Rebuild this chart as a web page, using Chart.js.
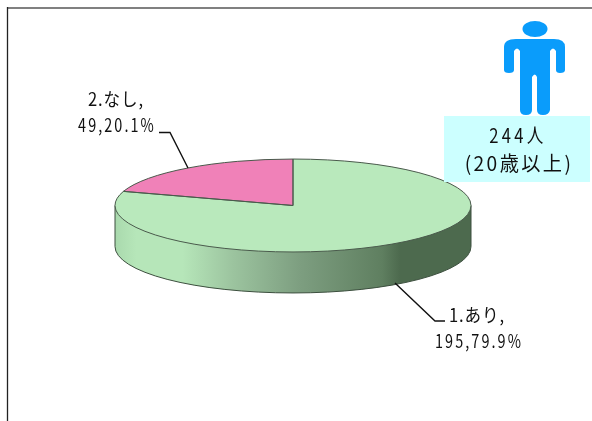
<!DOCTYPE html>
<html lang="ja">
<head>
<meta charset="utf-8">
<title>pie</title>
<script src="https://cdn.jsdelivr.net/npm/chart.js@4"></script>
<style>
html, body { margin: 0; padding: 0; background: #fff; overflow: hidden; }
canvas { display: block; }
</style>
</head>
<body>
<canvas id="pieChart" width="592" height="421"></canvas>
<script>
const categories = ['1.あり', '2.なし'];
const counts = [195, 49];
const percents = ['79.9', '20.1'];
const sampleLines = ['244人', '(20歳以上)'];

const sliceColors = ['#b9e9bc', '#f081b8'];
const FONT = '"Noto Sans CJK JP"';
const TILT = 0.261;   // ellipse height / width
const DEPTH = 41;     // thickness of the disc

function squash(ctx, el) {
    ctx.translate(el.x, el.y);
    ctx.scale(1, TILT);
    ctx.translate(-el.x, -el.y);
}

// the original glyphs are tall and narrow with wide gaps
function label(ctx, text, x, y, spacing, narrow) {
    ctx.save();
    ctx.translate(x, y);
    ctx.scale(narrow, 1);
    ctx.letterSpacing = spacing + 'px';
    ctx.fillText(text, 0, 0);
    ctx.restore();
}

function polyline(ctx, pts) {
    ctx.beginPath();
    pts.forEach((p, i) => i ? ctx.lineTo(p[0], p[1]) : ctx.moveTo(p[0], p[1]));
    ctx.stroke();
}

function drawPerson(ctx) {
    ctx.fillStyle = '#0a9cfb';
    ctx.beginPath();
    ctx.ellipse(535, 29, 12.5, 8, 0, 0, Math.PI * 2);
    ctx.fill();
    ctx.beginPath();
    ctx.moveTo(504, 47);
    ctx.quadraticCurveTo(504, 39, 516, 39);
    ctx.lineTo(554, 39);
    ctx.quadraticCurveTo(565, 39, 565, 47);
    ctx.lineTo(565, 70);
    ctx.quadraticCurveTo(565, 73, 560, 73);
    ctx.quadraticCurveTo(556, 73, 556, 70);
    ctx.lineTo(556, 51);
    ctx.quadraticCurveTo(553, 46, 550, 51);
    ctx.lineTo(550, 110);
    ctx.quadraticCurveTo(549, 115, 543, 115);
    ctx.quadraticCurveTo(537, 115, 537, 110);
    ctx.lineTo(537, 77);
    ctx.quadraticCurveTo(535, 72, 532, 77);
    ctx.lineTo(532, 110);
    ctx.quadraticCurveTo(532, 115, 526, 115);
    ctx.quadraticCurveTo(520, 115, 520, 110);
    ctx.lineTo(520, 51);
    ctx.quadraticCurveTo(517, 46, 514, 51);
    ctx.lineTo(514, 70);
    ctx.quadraticCurveTo(514, 73, 509, 73);
    ctx.quadraticCurveTo(504, 73, 504, 70);
    ctx.closePath();
    ctx.fill();
}

// flat pie from the library, tilted here and given a side wall
const tiltPlugin = {
    id: 'tilt',
    beforeDraw(chart) {
        const ctx = chart.ctx;
        ctx.save();
        ctx.fillStyle = '#fff';
        ctx.fillRect(0, 0, chart.width, chart.height);
        ctx.strokeStyle = '#808080';
        ctx.lineWidth = 2;
        polyline(ctx, [[7, 8], [592, 8]]);
        ctx.strokeStyle = '#222';
        ctx.lineWidth = 1.3;
        polyline(ctx, [[7.5, 7], [7.5, 421]]);
        ctx.restore();
    },
    beforeDatasetsDraw(chart) {
        const ctx = chart.ctx;
        const el = chart.getDatasetMeta(0).data[0];
        const r = el.outerRadius, ry = r * TILT;
        const g = ctx.createLinearGradient(el.x - r, 0, el.x + r, 0);
        g.addColorStop(0, '#a9d9ad');
        g.addColorStop(0.06, '#b6e6b9');
        g.addColorStop(0.19, '#b6e6b9');
        g.addColorStop(0.33, '#9cc49f');
        g.addColorStop(0.52, '#7d9e80');
        g.addColorStop(0.75, '#5f7f60');
        g.addColorStop(0.8, '#4d6a4e');
        g.addColorStop(1, '#4d6a4e');
        ctx.save();
        ctx.beginPath();
        ctx.moveTo(el.x - r, el.y);
        ctx.lineTo(el.x - r, el.y + DEPTH);
        ctx.ellipse(el.x, el.y + DEPTH, r, ry, 0, Math.PI, 0, true);
        ctx.lineTo(el.x + r, el.y);
        ctx.closePath();
        ctx.fillStyle = g;
        ctx.fill();
        ctx.strokeStyle = '#3c4f3e';
        ctx.lineWidth = 1;
        ctx.stroke();
        ctx.restore();

        ctx.save();
        squash(ctx, el);
    },
    afterDatasetsDraw(chart) {
        const ctx = chart.ctx;
        ctx.restore();

        // slice outlines: path built squashed, stroked unsquashed for an even line
        chart.getDatasetMeta(0).data.forEach(el => {
            ctx.save();
            squash(ctx, el);
            ctx.beginPath();
            ctx.moveTo(el.x, el.y);
            ctx.arc(el.x, el.y, el.outerRadius, el.startAngle, el.endAngle);
            ctx.closePath();
            ctx.restore();
            ctx.strokeStyle = '#4a5a4c';
            ctx.lineWidth = 1;
            ctx.stroke();
        });

        ctx.save();
        // sample box
        ctx.fillStyle = '#ccffff';
        ctx.fillRect(444, 116, 146, 66);
        drawPerson(ctx);

        // leader lines
        ctx.strokeStyle = '#111';
        ctx.lineWidth = 1.4;
        polyline(ctx, [[395, 283], [435, 321], [445, 321]]);
        polyline(ctx, [[159, 132.5], [170, 132.5], [188, 168]]);

        ctx.fillStyle = '#111';
        ctx.textAlign = 'center';
        ctx.textBaseline = 'alphabetic';
        ctx.font = '20px ' + FONT;
        label(ctx, sampleLines[0], 518, 143, 4, 0.83);
        label(ctx, sampleLines[1], 519, 171, 2.5, 0.96);

        ctx.font = '18px ' + FONT;
        label(ctx, categories[0] + ',', 477, 322, 1, 0.92);
        label(ctx, counts[0] + ',' + percents[0] + '%', 479, 348, 2.6, 0.8);
        label(ctx, categories[1] + ',', 116, 106, 1, 0.92);
        label(ctx, counts[1] + ',' + percents[1] + '%', 117, 132, 2.6, 0.8);
        ctx.restore();
    }
};

document.addEventListener('DOMContentLoaded', function () {
    const ctx = document.getElementById('pieChart').getContext('2d');

    new Chart(ctx, {
        type: 'pie',
        data: {
            labels: categories,
            datasets: [{
                data: counts,
                backgroundColor: sliceColors,
                borderWidth: 0,
                radius: 178
            }]
        },
        options: {
            responsive: false,
            animation: false,
            layout: { padding: { right: 6, bottom: 10 } },
            plugins: {
                legend: { display: false },
                tooltip: { enabled: false }
            }
        },
        plugins: [tiltPlugin]
    });
});
</script>
</body>
</html>
